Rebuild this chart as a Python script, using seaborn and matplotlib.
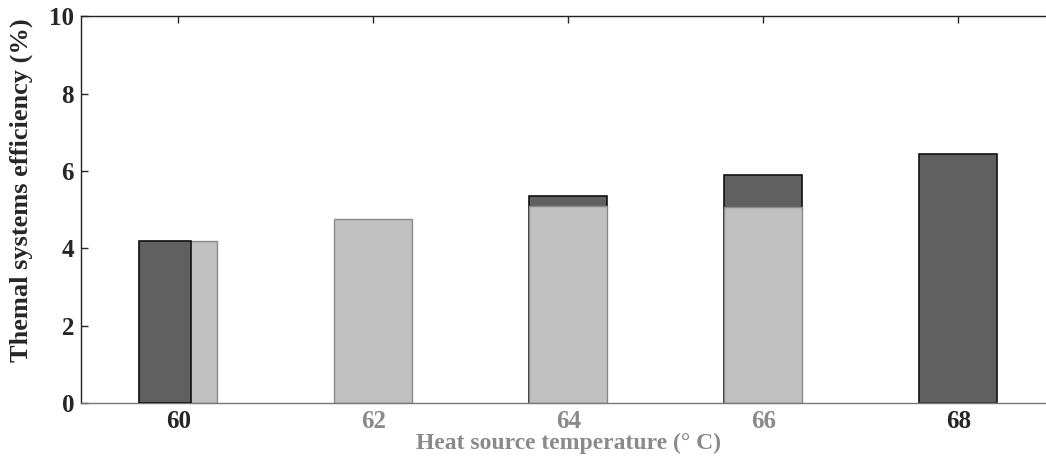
import seaborn as sns
import pandas as pd
import matplotlib.pyplot as plt

# Heat source temperatures (deg C) and the two efficiency series (%)
temps = [60, 62, 64, 66, 68]
dark_eff = [4.2, 0.0, 5.35, 5.9, 6.45]
light_eff = [4.2, 4.77, 5.1, 5.07, 0.0]
y_ticks = [0, 2, 4, 6, 8, 10]
gray_labels = [62, 64, 66]

sns.set_style("white")
plt.rcParams['font.family'] = ['Liberation Serif', 'DejaVu Serif']
plt.rcParams['font.weight'] = 'bold'

df_dark = pd.DataFrame({'temp': temps, 'eff': dark_eff})
df_light = pd.DataFrame({'temp': temps, 'eff': light_eff})

fig = plt.figure(figsize=(10.46, 4.66), dpi=100)
ax = fig.add_axes([0.0774, 0.135, 0.932, 0.830])

# dark series first, light series drawn over it
sns.barplot(data=df_dark, x='temp', y='eff', native_scale=True, width=0.4,
            color='#606060', edgecolor='#111111', linewidth=1.2, saturation=1, ax=ax)
sns.barplot(data=df_light, x='temp', y='eff', native_scale=True, width=0.4,
            color='#c0c0c0', edgecolor='#8a8a8a', linewidth=1.0, saturation=1, ax=ax)

# at 60 deg the dark bar shows on the left two thirds of the pair
first = ax.patches[0]
first.set_width(first.get_width() * 2 / 3)
first.set_zorder(3)

ax.set_xlim(59, 69)
ax.set_ylim(0, 10)
ax.set_xticks(temps)
ax.set_yticks(y_ticks)
ax.tick_params(axis='both', direction='in', labelsize=18, length=5, width=1,
               top=True, bottom=False, left=True, right=False, pad=5)
for lab in ax.get_xticklabels():
    if int(float(lab.get_text())) in gray_labels:
        lab.set_color('#8a8a8a')
ax.spines['right'].set_visible(False)
for s in ['left', 'top', 'bottom']:
    ax.spines[s].set_linewidth(1.0)
    ax.spines[s].set_color('#222222')
ax.spines['bottom'].set_color('#777777')

ax.set_ylabel('Themal systems efficiency (%)', fontsize=19, fontweight='bold')
ax.yaxis.set_label_coords(-0.049, 0.55)
ax.set_xlabel('Heat source temperature (° C)', fontsize=17, fontweight='bold',
              color='#8a8a8a', labelpad=0)

fig.savefig('out.png', dpi=100)
